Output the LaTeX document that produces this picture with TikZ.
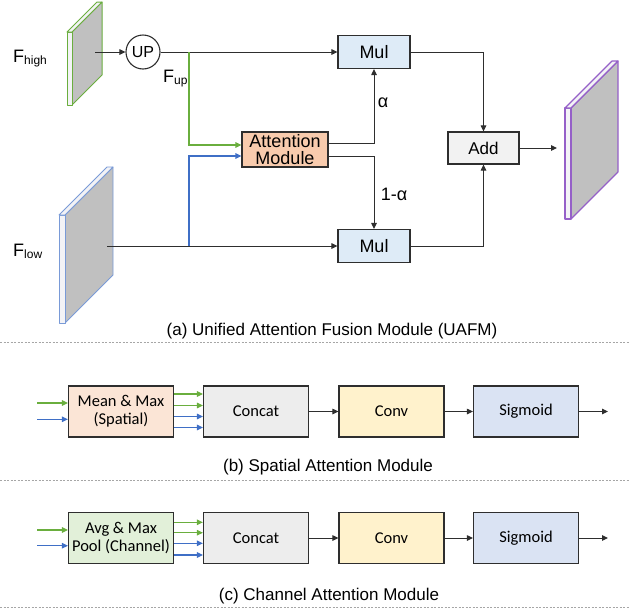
\documentclass[tikz,border=0pt]{standalone}
\usepackage{fontspec}
\setmainfont{Liberation Sans}
\newfontfamily\calibri{Carlito}
\usetikzlibrary{arrows.meta,calc}
\definecolor{lc}{HTML}{2E2E2E}
\definecolor{grn}{HTML}{6AAE3E}
\definecolor{blu}{HTML}{3F6FC6}
\definecolor{pur}{HTML}{9560C8}
\definecolor{slabgray}{HTML}{C0C0C0}
\definecolor{slabside}{HTML}{F3F3F6}
\definecolor{mulfill}{HTML}{DEEBF7}
\definecolor{attfill}{HTML}{F8CBAD}
\definecolor{addfill}{HTML}{F2F2F2}
\definecolor{meanfill}{HTML}{FBE5D6}
\definecolor{catfill}{HTML}{EDEDED}
\definecolor{convfill}{HTML}{FFF2CC}
\definecolor{sigfill}{HTML}{DAE3F3}
\definecolor{avgfill}{HTML}{E2F0D9}
\newcommand{\lowsub}[1]{\raisebox{-2.5pt}{\fontsize{12}{12}\selectfont #1}}
% x0, w, y0, y1, depth, colour, width
\newcommand{\drawslab}[7]{%
  \filldraw[draw=#6, fill=slabgray, line width=#7, line join=round] (#1+#2,#3) -- ++(#5,-#5) -- ++(0,#4-#3) -- (#1+#2,#4) -- cycle;
  \filldraw[draw=#6, fill=slabside, line width=#7, line join=round] (#1,#3) rectangle (#1+#2,#4);
  \filldraw[draw=#6, fill=slabside, line width=#7, line join=round] (#1,#3) -- ++(#5,-#5) -- ++(#2,0) -- (#1+#2,#3) -- cycle;
}
\tikzset{
  conn/.style={draw=lc, line width=1pt, -{Triangle[length=6pt,width=5.5pt]}},
  gconn/.style={draw=grn, line width=1.1pt, -{Triangle[length=6pt,width=5.5pt]}},
  bconn/.style={draw=blu, line width=1.1pt, -{Triangle[length=6pt,width=5.5pt]}},
  topbox/.style={draw=lc, line width=1.1pt, inner sep=0pt, align=center, font=\fontsize{18}{16.5}\selectfont},
  lowbox/.style={draw=lc, line width=1.1pt, inner sep=0pt, align=center, minimum width=105pt, minimum height=51pt, font=\calibri\fontsize{16.5}{17.7}\selectfont},
  caption/.style={font=\fontsize{17}{17}\selectfont},
  sep/.style={draw=gray!70, line width=0.6pt, dash pattern=on 2pt off 1.5pt},
  lbl/.style={font=\fontsize{18}{18}\selectfont, inner sep=0pt},
}
\begin{document}
\begin{tikzpicture}[x=1pt, y=-1pt]
\useasboundingbox (0,0) rectangle (629,611);

% ---------------- (a) UAFM ----------------
\begin{scope}
\clip (0,0) rectangle (629,611);
\drawslab{67}{5}{32}{105}{30}{grn}{1pt}
\end{scope}
\drawslab{59}{6}{215}{323}{48}{blu!70}{0.8pt}
\drawslab{565}{6}{108}{219}{47}{pur}{1.1pt}

\node[lbl, anchor=base west] (fhigh) at (13,62) {F\lowsub{high}};
\node[lbl, anchor=base west] (flow) at (13,256) {F\lowsub{low}};
\node[lbl, anchor=base west] (fup) at (163,82) {F\lowsub{up}};

\coordinate (fhc) at (95,52);
\coordinate (flc) at (107,246);
\node[draw=lc, line width=1.1pt, circle, minimum size=34pt, inner sep=0pt, font=\fontsize{16}{16}\selectfont] (up) at (143,52) {UP};

\node[topbox, fill=mulfill, minimum width=72pt, minimum height=33pt] (mul1) at (374,52) {Mul};
\node[topbox, fill=mulfill, minimum width=72pt, minimum height=33pt] (mul2) at (374,246) {Mul};
\node[topbox, fill=attfill, minimum width=86pt, minimum height=35pt] (att) at (285,149.5) {Attention\\Module};
\node[topbox, fill=addfill, minimum width=71pt, minimum height=32pt, font=\fontsize{17}{17}\selectfont] (add) at (483.5,148) {Add};

\coordinate (gb) at (189,52);
\coordinate (bb) at (189,246);
\coordinate (outp) at (557,148);

\draw[conn] (fhc) -- (up.west);
\draw[conn] (up.east) -- (mul1.west);
\draw[conn] (flc) -- (mul2.west);
\draw[gconn] (gb) |- ($(att.west)+(0,-4.5)$);
\draw[bconn] (bb) |- ($(att.west)+(0,6.5)$);
\draw[conn] ($(att.east)+(0,-6.5)$) -| (mul1.south);
\draw[conn] ($(att.east)+(0,6.5)$) -| (mul2.north);
\draw[conn] (mul1.east) -| (add.north);
\draw[conn] (mul2.east) -| (add.south);
\draw[conn] (add.east) -- (outp);

\node[lbl] (alpha) at (383,103) {α};
\node[lbl] (oneminus) at (394,194) {1-α};

\node[caption] (capa) at (332,331) {(a) Unified Attention Fusion Module (UAFM)};
\coordinate (s1l) at (0,342); \coordinate (s1r) at (629,342);
\draw[sep] (s1l) -- (s1r);

% ---------------- (b) Spatial ----------------
\node[lowbox, fill=meanfill] (mm) at (121,411.5) {Mean \& Max\\(Spatial)};
\node[lowbox, fill=catfill] (catb) at (256,411.5) {Concat};
\node[lowbox, fill=convfill] (convb) at (391.5,411.5) {Conv};
\node[lowbox, fill=sigfill] (sigb) at (526,411.5) {Sigmoid};
\coordinate (bing) at (37,403);
\coordinate (binb) at (37,419.3);
\coordinate (bout) at (608,411.5);
\draw[gconn] (bing) -- (mm.west |- bing);
\draw[bconn] (binb) -- (mm.west |- binb);
\draw[gconn] ($(mm.east)+(0,-17.5)$) -- ($(catb.west)+(0,-17.5)$);
\draw[gconn] ($(mm.east)+(0,-6)$) -- ($(catb.west)+(0,-6)$);
\draw[bconn] ($(mm.east)+(0,5)$) -- ($(catb.west)+(0,5)$);
\draw[bconn] ($(mm.east)+(0,16)$) -- ($(catb.west)+(0,16)$);
\draw[conn] (catb.east) -- (convb.west);
\draw[conn] (convb.east) -- (sigb.west);
\draw[conn] (sigb.east) -- (bout);
\node[caption] (capb) at (328,467) {(b) Spatial Attention Module};
\coordinate (s2l) at (0,480); \coordinate (s2r) at (629,480);
\draw[sep] (s2l) -- (s2r);

% ---------------- (c) Channel ----------------
\node[lowbox, fill=avgfill] (am) at (121,538) {Avg \& Max\\Pool (Channel)};
\node[lowbox, fill=catfill] (catc) at (256,538) {Concat};
\node[lowbox, fill=convfill] (convc) at (391.5,538) {Conv};
\node[lowbox, fill=sigfill] (sigc) at (526,538) {Sigmoid};
\coordinate (cing) at (37,530);
\coordinate (cinb) at (37,545.7);
\coordinate (cout) at (608,538);
\draw[gconn] (cing) -- (am.west |- cing);
\draw[bconn] (cinb) -- (am.west |- cinb);
\draw[gconn] ($(am.east)+(0,-15.7)$) -- ($(catc.west)+(0,-15.7)$);
\draw[gconn] ($(am.east)+(0,-5.3)$) -- ($(catc.west)+(0,-5.3)$);
\draw[bconn] ($(am.east)+(0,5.3)$) -- ($(catc.west)+(0,5.3)$);
\draw[bconn] ($(am.east)+(0,17)$) -- ($(catc.west)+(0,17)$);
\draw[conn] (catc.east) -- (convc.west);
\draw[conn] (convc.east) -- (sigc.west);
\draw[conn] (sigc.east) -- (cout);
\node[caption] (capc) at (329,596) {(c) Channel Attention Module};
\coordinate (s3l) at (0,607); \coordinate (s3r) at (629,607);
\draw[sep] (s3l) -- (s3r);
\end{tikzpicture}
\end{document}
